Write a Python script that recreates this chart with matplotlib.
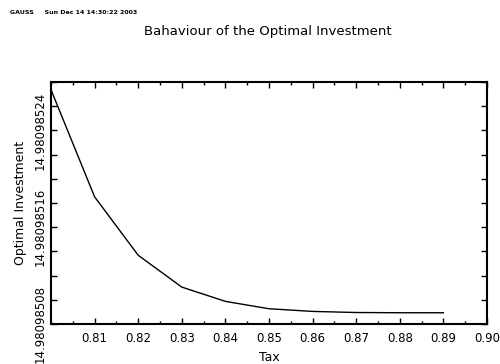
import matplotlib
matplotlib.use("Agg")
import matplotlib.pyplot as plt
from matplotlib.ticker import MultipleLocator, FixedLocator, FormatStrFormatter

# data
tax = [0.80, 0.81, 0.82, 0.83, 0.84, 0.85, 0.86, 0.87, 0.88, 0.89]
investment = [14.9809852736, 14.9809851851, 14.9809851368, 14.9809851105,
              14.9809850987, 14.9809850926, 14.9809850904, 14.9809850895,
              14.9809850893, 14.9809850893]
y_labels = [14.98098508, 14.98098516, 14.98098524]
x_labels = [0.81, 0.82, 0.83, 0.84, 0.85, 0.86, 0.87, 0.88, 0.89, 0.90]

fig = plt.figure(figsize=(5.0, 3.64), dpi=100)
ax = fig.add_axes([51 / 500, 1 - 324 / 364, 436 / 500, 242 / 364])

ax.plot(tax, investment, color="black", lw=1.0)

ax.set_xlim(0.80, 0.90)
ax.set_ylim(14.98098508, 14.98098528)

ax.xaxis.set_major_locator(FixedLocator(x_labels))
ax.xaxis.set_minor_locator(MultipleLocator(0.005))
ax.xaxis.set_major_formatter(FormatStrFormatter("%.2f"))
ax.yaxis.set_major_locator(FixedLocator(y_labels))
ax.yaxis.set_minor_locator(MultipleLocator(2e-8))
ax.yaxis.set_major_formatter(FormatStrFormatter("%.8f"))

ax.tick_params(which="both", direction="in", top=True, right=True,
               width=1.0, labelsize=8.5)
ax.tick_params(axis="x", pad=6)
ax.tick_params(axis="y", pad=3)
ax.tick_params(which="major", length=4)
ax.tick_params(which="minor", length=2.5)
ax.tick_params(axis="y", which="minor", length=4)
for lab in ax.get_yticklabels():
    lab.set_rotation(90)
    lab.set_va("center")
for sp in ax.spines.values():
    sp.set_linewidth(1.5)

ax.set_xlabel("Tax", fontsize=9, labelpad=4)
ax.set_ylabel("Optimal Investment", fontsize=9)
ax.yaxis.set_label_coords(-24 / 436, 0.5)

fig.text(268 / 500, 1 - 32 / 364, "Bahaviour of the Optimal Investment",
         ha="center", va="center", fontsize=9.5)
fig.text(10 / 500, 1 - 13 / 364, "GAUSS     Sun Dec 14 14:30:22 2003",
         ha="left", va="center", fontsize=4.5, fontweight="bold")

fig.savefig("out.png", dpi=100)
